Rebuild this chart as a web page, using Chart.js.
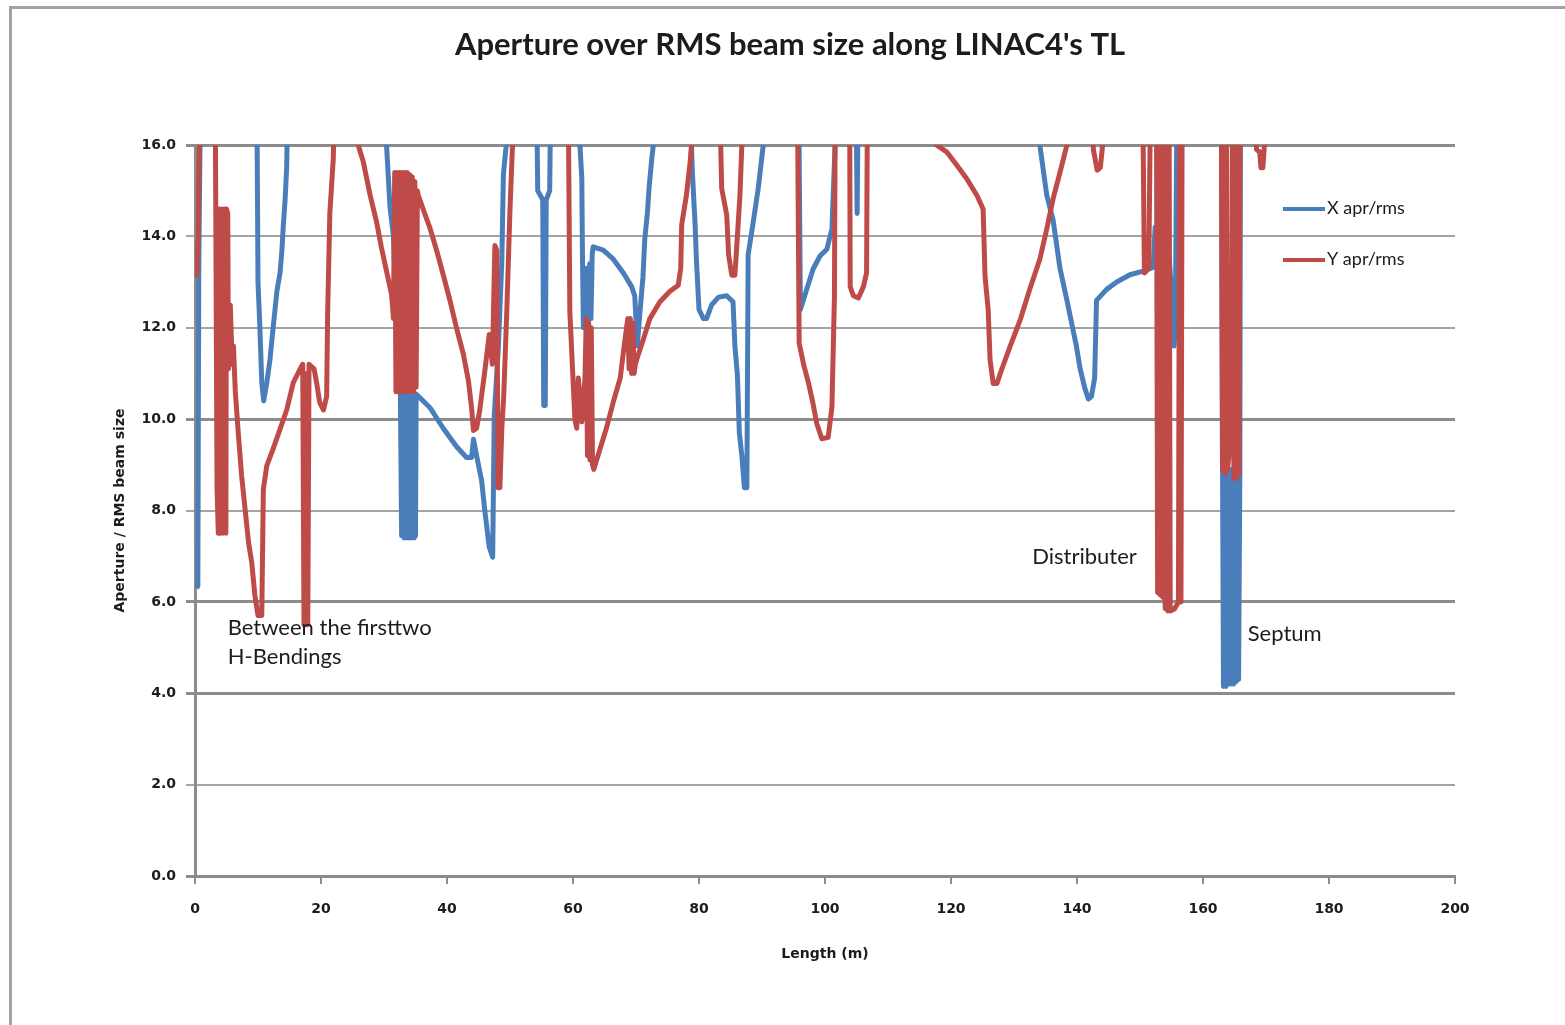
<!DOCTYPE html>
<html>
<head>
<meta charset="utf-8">
<title>Aperture over RMS beam size along LINAC4's TL</title>
<script src="https://cdn.jsdelivr.net/npm/chart.js@4/dist/chart.umd.min.js"></script>
<style>
  html, body { margin: 0; padding: 0; background: #fff; overflow: hidden; }
  #wrap { position: relative; width: 1565px; height: 1025px; }
  #wrap canvas { position: absolute; left: 0; top: 0; }
  #frame {
    position: absolute; left: 9px; top: 6px; width: 1700px; height: 1200px;
    border-left: 3px solid #a2a2a2; border-top: 3px solid #a2a2a2;
    box-sizing: border-box; pointer-events: none;
  }
</style>
</head>
<body>
<div id="wrap">
  <canvas id="chart" width="1565" height="1025"></canvas>
  <div id="frame"></div>
</div>
<script>
// Horizontal aperture / RMS beam size (X) along the line, position in metres
const xAprLength = [
  0.25, 0.45, 0.6, 0.9, 9.8, 10.0, 10.3, 10.6, 10.9, 11.4, 11.9, 12.4, 13.0, 13.5, 13.8, 14.0, 14.3, 14.55, 14.8,
  30.2, 30.4, 30.95, 31.5, 32.0, 32.3, 32.6, 32.8, 33.0, 33.2, 33.4, 33.6, 33.8, 34.0, 34.2, 34.4, 34.6, 34.8,
  35.0, 35.1, 37.3, 39.4, 41.5, 43.1,
  43.9, 44.2, 44.7, 45.5, 46.0, 46.7, 47.25, 47.5, 48.15, 48.7, 48.95, 49.4, 49.6,
  54.2, 54.4, 55.2, 55.35, 55.6, 55.75, 56.3, 56.5,
  60.9, 61.1, 61.4, 61.5, 61.65, 61.85, 62.05, 62.25, 62.45, 62.65, 62.85, 63.05, 63.2, 64.8, 66.4, 68.0, 69.3,
  69.8, 70.2, 70.6, 71.1, 71.4, 71.8, 72.1, 72.5, 72.75, 73.0,
  78.6, 78.8, 78.95, 79.4, 79.6, 80.0, 80.7, 81.2, 82.0, 83.1, 84.4, 85.4, 85.7, 86.1, 86.4, 86.8, 87.2, 87.6,
  87.8, 88.6, 89.4, 90.2, 90.4,
  95.8, 96.1, 97.1, 98.1, 99.2, 100.3, 101.1, 101.6, 101.8, 104.9, 105.1, 105.3,
  133.9, 134.1, 135.2, 136.2, 137.3, 138.4, 139.9, 140.5, 141.2, 141.8, 142.3, 142.8, 143.1, 144.7, 146.3,
  148.4, 150.5, 152.1, 152.4, 153.0, 153.4, 154.6, 155.2, 155.4, 155.6, 155.9,
  162.9, 163.1, 163.25, 163.45, 163.65, 163.85, 164.05, 164.25, 164.45, 164.65, 164.85, 165.05, 165.25, 165.45,
  165.65, 165.85, 165.95
];
const xAprValue = [
  6.3, 6.35, 13.3, 17.5, 17.5, 13.0, 12.0, 10.8, 10.4, 10.8, 11.3, 12.0, 12.8, 13.2, 13.7, 14.2, 14.8, 15.5, 17.5,
  17.5, 16.0, 14.65, 14.0, 12.1, 11.1, 10.5, 7.45, 10.5, 7.4, 10.5, 7.4, 10.5, 7.4, 10.5, 7.4, 10.5, 7.4,
  7.45, 10.55, 10.25, 9.8, 9.4, 9.16,
  9.16, 9.56, 9.2, 8.65, 8.0, 7.2, 6.98, 10.1, 11.56, 13.45, 15.35, 16.0, 17.5,
  17.5, 15.0, 14.8, 10.3, 10.3, 14.8, 15.0, 17.5,
  17.5, 16.0, 15.27, 13.6, 12.0, 13.3, 12.0, 13.3, 12.1, 13.4, 12.2, 13.6, 13.77, 13.7, 13.5, 13.2, 12.9,
  12.7, 11.6, 12.3, 13.1, 13.95, 14.5, 15.1, 15.7, 16.0, 17.5,
  17.5, 16.0, 15.4, 14.2, 13.45, 12.4, 12.2, 12.2, 12.5, 12.67, 12.7, 12.57, 11.6, 10.96, 9.7, 9.2, 8.5, 8.5,
  13.6, 14.3, 15.05, 16.0, 17.5,
  17.5, 12.4, 12.84, 13.28, 13.57, 13.72, 14.16, 16.0, 17.5, 17.5, 14.5, 17.5,
  17.5, 16.0, 14.9, 14.36, 13.3, 12.6, 11.6, 11.1, 10.7, 10.44, 10.5, 10.9, 12.6, 12.84, 13.0,
  13.16, 13.24, 13.32, 14.2, 14.2, 13.9, 13.6, 12.4, 11.6, 12.0, 17.5,
  17.5, 9.0, 4.15, 8.9, 4.15, 8.9, 4.2, 8.9, 4.2, 8.9, 4.2, 8.9, 4.25, 8.9,
  4.3, 8.9, 17.5
];

// Vertical aperture / RMS beam size (Y) along the line, position in metres
const yAprLength = [
  0.25, 0.5, 0.8, 3.0, 3.2, 3.5, 3.7, 3.9, 4.1, 4.3, 4.5, 4.7, 4.9, 5.0, 5.2, 5.3, 5.6, 5.9, 6.1, 6.4, 6.9,
  7.4, 7.9, 8.5, 9.0, 9.5, 10.0, 10.6, 10.85, 11.4, 12.4, 13.5, 14.55, 15.6, 16.7, 17.1, 17.3, 17.5, 17.7,
  17.9, 18.1, 18.9, 19.3, 19.8, 20.4, 20.9, 21.05, 21.4, 21.95, 22.2,
  25.7, 25.9, 26.7, 27.8, 28.8, 29.6, 30.4, 31.2, 31.5, 31.7, 31.9, 32.1, 32.3, 32.5, 32.7, 32.9, 33.1, 33.3,
  33.5, 33.7, 33.9, 34.1, 34.3, 34.5, 34.7, 34.9, 35.1, 35.3, 35.45,
  36.2, 37.3, 38.4, 39.4, 40.5, 41.5, 42.6, 43.4, 43.9, 44.2, 44.7, 45.2, 46.0, 46.7, 47.2, 47.6, 47.9,
  48.1, 48.4, 48.7, 49.0, 49.5, 50.0, 50.4, 50.6,
  59.1, 59.3, 59.5, 60.3, 60.6, 60.85, 61.4, 61.9, 62.1, 62.3, 62.5, 62.7, 62.9, 63.1, 63.3, 64.3, 65.3, 66.4,
  67.5, 68.0, 68.5, 68.7, 68.9, 69.1, 69.3, 69.5, 69.7, 69.9, 70.1, 71.2, 72.2, 73.8, 75.4, 76.7, 77.1, 77.25,
  78.0, 78.6, 78.8, 79.0,
  83.2, 83.6, 84.4, 84.7, 85.2, 85.7, 86.0, 86.5, 86.8, 87.0,
  95.6, 95.9, 96.6, 97.4, 98.1, 98.7, 99.5, 100.5, 101.1, 101.5, 101.6, 101.7,
  103.9, 104.0, 104.5, 105.3, 106.1, 106.6, 106.7, 106.8,
  110.0, 117.7, 119.3, 120.9, 122.5, 124.1, 125.1, 125.4, 125.9, 126.2, 126.7, 127.3, 128.0, 129.4, 131.0,
  132.5, 134.1, 135.2, 136.2, 137.3, 138.4, 139.5,
  142.3, 142.6, 143.2, 143.7, 144.0, 144.6,
  150.4, 150.7, 151.4, 151.7,
  152.6, 152.8, 153.0, 153.2, 153.4, 153.6, 153.8, 154.0, 154.2, 154.4, 154.6, 154.8, 155.5, 156.1, 156.3,
  156.5, 156.7,
  162.9, 163.1, 163.3, 163.5, 163.7, 163.9, 164.1, 164.3, 164.5, 164.7, 164.9, 165.1, 165.3, 165.5, 165.7,
  165.9, 166.0,
  168.2, 168.5, 169.0, 169.2, 169.5, 169.7, 170.0
];
const yAprValue = [
  13.1, 14.0, 17.5, 17.5, 17.5, 8.5, 7.5, 14.6, 7.5, 14.6, 7.5, 14.6, 7.5, 14.6, 14.5, 11.1, 12.5, 11.2, 11.6, 10.6, 9.64,
  8.76, 8.1, 7.3, 6.87, 6.15, 5.7, 5.7, 8.47, 8.98, 9.35, 9.78, 10.2, 10.8, 11.1, 11.2, 5.5, 11.0, 5.5,
  5.5, 11.2, 11.1, 10.8, 10.36, 10.2, 10.5, 12.3, 14.5, 15.7, 17.5,
  17.5, 16.0, 15.64, 14.9, 14.33, 13.75, 13.24, 12.73, 12.2, 15.4, 10.6, 15.4, 10.6, 15.4, 10.6, 15.4, 10.6, 15.4,
  10.6, 15.4, 10.6, 15.35, 10.6, 15.3, 10.6, 15.2, 10.7, 15.0, 14.9,
  14.6, 14.18, 13.67, 13.16, 12.58, 12.0, 11.42, 10.84, 10.25, 9.75, 9.8, 10.2, 11.05, 11.85, 11.2, 13.8, 13.7,
  8.5, 8.5, 9.8, 10.5, 12.4, 14.6, 16.0, 17.5,
  17.5, 16.0, 12.35, 10.0, 9.8, 10.9, 9.94, 10.9, 12.2, 9.2, 12.1, 9.1, 12.0, 9.0, 8.9, 9.35, 9.8, 10.38,
  10.9, 11.47, 12.0, 12.2, 11.1, 12.2, 11.0, 12.1, 11.0, 11.2, 11.3, 11.76, 12.2, 12.57, 12.8, 12.93, 13.3, 14.25,
  14.9, 15.63, 16.0, 17.5,
  17.5, 15.05, 14.47, 13.6, 13.15, 13.15, 13.8, 14.9, 16.0, 17.5,
  17.5, 11.66, 11.2, 10.78, 10.34, 9.9, 9.57, 9.6, 10.26, 12.7, 16.0, 17.5,
  17.5, 12.9, 12.7, 12.65, 12.9, 13.2, 16.0, 17.5,
  17.5, 16.0, 15.85, 15.56, 15.26, 14.9, 14.6, 13.13, 12.4, 11.3, 10.78, 10.78, 11.07, 11.6, 12.18,
  12.84, 13.5, 14.16, 14.82, 15.4, 16.0, 17.0,
  17.5, 15.9, 15.45, 15.5, 15.9, 17.5,
  17.5, 13.2, 13.3, 17.5,
  17.5, 6.2, 17.5, 6.15, 17.5, 6.1, 17.5, 5.85, 17.5, 5.8, 17.5, 5.8, 5.85, 6.0, 17.5,
  6.0, 17.5,
  17.5, 8.9, 17.5, 8.8, 17.5, 8.9, 9.2, 9.6, 9.5, 17.5, 8.7, 17.5, 8.7, 17.5, 8.8,
  17.5, 17.5,
  17.5, 15.9, 15.85, 15.5, 15.5, 15.9, 17.5
];

const seriesNames = ['X apr/rms', 'Y apr/rms'];
const yTicks = [0, 2, 4, 6, 8, 10, 12, 14, 16];
const xTicks = [0, 20, 40, 60, 80, 100, 120, 140, 160, 180, 200];

// Text notes placed at (length, value) positions
const noteText = ['Between the firsttwo', 'H-Bendings', 'Distributer', 'Septum'];
const noteLength = [5.2, 5.2, 132.9, 167.1];
const noteValue = [5.43, 4.79, 6.98, 5.3];

const BLUE = '#4a7ebb';
const RED = '#be4b48';
const AXIS_GREY = '#8c8c8c';
const LIGHT_GREY = '#a4a4a4';
const TEXT = '#1c1c1c';
const TICK_FONT = { family: "'DejaVu Sans', sans-serif", size: 14, weight: 'bold' };
const AXIS_TITLE_FONT = { family: "'DejaVu Sans', sans-serif", size: 14, weight: 'bold' };

const toPoints = (xs, ys) => xs.map((x, i) => ({ x, y: ys[i] }));

// Legend drawn inside the plot, in the upper-right corner
const insideLegend = {
  id: 'insideLegend',
  afterDraw(chart) {
    const { ctx, chartArea } = chart;
    ctx.save();
    chart.data.datasets.forEach((ds, i) => {
      const y = chartArea.top + 64 + i * 51;
      const x0 = chartArea.right - 172;
      ctx.strokeStyle = ds.borderColor;
      ctx.lineWidth = 4;
      ctx.beginPath();
      ctx.moveTo(x0, y);
      ctx.lineTo(x0 + 42, y);
      ctx.stroke();
      ctx.fillStyle = TEXT;
      ctx.font = "18px Lato, 'DejaVu Sans', sans-serif";
      ctx.textAlign = 'left';
      ctx.textBaseline = 'middle';
      ctx.fillText(ds.label, x0 + 44, y - 1);
    });
    ctx.restore();
  }
};

// Free text notes anchored in data coordinates
const notes = {
  id: 'notes',
  afterDatasetsDraw(chart) {
    const { ctx, scales } = chart;
    ctx.save();
    ctx.fillStyle = TEXT;
    ctx.font = "22px Lato, 'DejaVu Sans', sans-serif";
    ctx.textAlign = 'left';
    ctx.textBaseline = 'middle';
    noteText.forEach((t, i) => {
      ctx.fillText(t, scales.x.getPixelForValue(noteLength[i]), scales.y.getPixelForValue(noteValue[i]));
    });
    ctx.restore();
  }
};

const heavyLine = v => [16, 10, 6, 4, 0].includes(v);

new Chart(document.getElementById('chart'), {
  type: 'line',
  data: {
    datasets: [
      {
        label: seriesNames[0],
        data: toPoints(xAprLength, xAprValue),
        borderColor: BLUE,
        backgroundColor: BLUE,
        borderWidth: 5,
        order: 1
      },
      {
        label: seriesNames[1],
        data: toPoints(yAprLength, yAprValue),
        borderColor: RED,
        backgroundColor: RED,
        borderWidth: 5,
        order: 0
      }
    ]
  },
  options: {
    responsive: false,
    animation: false,
    events: [],
    layout: { padding: { left: 15, right: 0, top: 0, bottom: 0 } },
    elements: {
      point: { radius: 0 },
      line: { tension: 0, borderJoinStyle: 'round', borderCapStyle: 'butt' }
    },
    datasets: { line: { clip: 0 } },
    plugins: {
      legend: { display: false },
      tooltip: { enabled: false },
      title: {
        display: true,
        text: "Aperture over RMS beam size along LINAC4's TL",
        color: TEXT,
        font: { family: "Lato, 'DejaVu Sans', sans-serif", size: 31, weight: 'bold' },
        padding: { top: 26.4, bottom: 81.4 }
      }
    },
    scales: {
      x: {
        type: 'linear',
        min: 0,
        max: 200,
        afterBuildTicks: s => { s.ticks = xTicks.map(v => ({ value: v })); },
        afterFit: s => { s.height = 149; },
        ticks: { color: TEXT, font: TICK_FONT, padding: 17, maxRotation: 0, autoSkip: false },
        grid: { drawOnChartArea: false, drawTicks: true, tickLength: 8, color: AXIS_GREY, lineWidth: 2 },
        border: { display: true, color: AXIS_GREY, width: 3 },
        title: {
          display: true,
          text: 'Length (m)',
          color: TEXT,
          font: AXIS_TITLE_FONT,
          padding: { top: 0, bottom: 62.6 }
        }
      },
      y: {
        min: 0,
        max: 16,
        afterBuildTicks: s => { s.ticks = yTicks.map(v => ({ value: v })); },
        afterFit: s => { s.width = 180; },
        ticks: { color: TEXT, font: TICK_FONT, padding: 10, callback: v => Number(v).toFixed(1) },
        grid: {
          color: c => (c.tick && heavyLine(c.tick.value) ? AXIS_GREY : LIGHT_GREY),
          lineWidth: c => (c.tick && heavyLine(c.tick.value) ? 3 : 2),
          tickLength: 9,
          drawTicks: true
        },
        border: { display: true, color: AXIS_GREY, width: 3 },
        title: {
          display: true,
          text: 'Aperture / RMS beam size',
          color: TEXT,
          font: AXIS_TITLE_FONT,
          padding: { top: 96.6, bottom: 0 }
        }
      },
      // empty right-hand axis that only reserves the margin beside the plot
      yRight: {
        position: 'right',
        display: true,
        min: 0,
        max: 16,
        afterFit: s => { s.width = 110; },
        ticks: { display: false },
        grid: { display: false, drawTicks: false },
        border: { display: false }
      }
    }
  },
  plugins: [insideLegend, notes]
});
</script>
</body>
</html>
